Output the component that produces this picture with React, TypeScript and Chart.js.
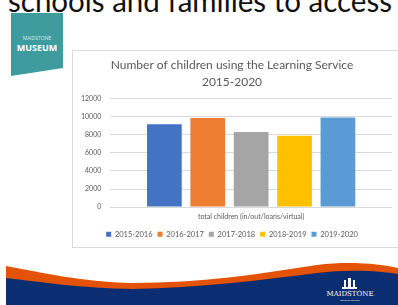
import React, { useEffect, useRef } from "react";
import { Chart, registerables } from "chart.js";

Chart.register(...registerables);

const chartTitle = ["Number of children using the Learning Service", "2015-2020"];
const categories = ["total children (in/out/loans/virtual)"];
const seriesNames = ["2015-2016", "2016-2017", "2017-2018", "2018-2019", "2019-2020"];
const seriesValues = [9150, 9850, 8300, 7900, 9900];
const seriesColors = ["#4472C4", "#ED7D31", "#A5A5A5", "#FFC000", "#5B9BD5"];
const yTicks = [0, 2000, 4000, 6000, 8000, 10000, 12000];

const FONT = "Lato, 'Open Sans', sans-serif";

function BarChart() {
  const ref = useRef<HTMLCanvasElement | null>(null);
  useEffect(() => {
    if (!ref.current) return;
    const chart = new Chart(ref.current, {
      type: "bar",
      data: {
        labels: categories,
        datasets: seriesNames.map((name, i) => ({
          label: name,
          data: [seriesValues[i]],
          backgroundColor: seriesColors[i],
          borderWidth: 0,
          barPercentage: 0.8,
          categoryPercentage: 0.77,
        })),
      },
      options: {
        animation: false,
        responsive: false,
        events: [],
        layout: { padding: { left: 0, right: 10, top: 0, bottom: 0 } },
        scales: {
          x: {
            grid: { display: false, drawTicks: false },
            border: { display: false },
            ticks: { font: { family: FONT, size: 7 }, color: "#595959", padding: 5 },
          },
          y: {
            min: yTicks[0],
            max: yTicks[yTicks.length - 1],
            afterBuildTicks: (axis: any) => {
              axis.ticks = yTicks.map((v) => ({ value: v }));
            },
            grid: { color: "#d9d9d9", drawTicks: false },
            border: { display: false },
            ticks: {
              font: { family: FONT, size: 7 },
              color: "#595959",
              padding: 9,
              callback: (v: any) => String(v),
            },
          },
        },
        plugins: {
          title: {
            display: true,
            text: chartTitle,
            font: { family: FONT, size: 12, weight: "normal" as any, lineHeight: 1.4 },
            color: "#595959",
            padding: { top: 7, bottom: 8 },
          },
          legend: {
            position: "bottom",
            labels: {
              boxWidth: 5,
              boxHeight: 5,
              padding: 5,
              font: { family: FONT, size: 7.5 },
              color: "#595959",
            },
          },
          tooltip: { enabled: false },
        },
      },
    });
    return () => chart.destroy();
  }, []);
  return <canvas ref={ref} width={330} height={198} style={{ display: "block" }} />;
}

export default function App() {
  return (
    <div
      style={{
        position: "fixed",
        left: 0,
        top: 0,
        width: 398,
        height: 305,
        overflow: "hidden",
        background: "#ffffff",
      }}
    >
      <svg width={398} height={305} style={{ position: "absolute", left: 0, top: 0 }}>
        <text
          x={8}
          y={12}
          textLength={384}
          lengthAdjust="spacingAndGlyphs"
          style={{ font: "30px Lato, 'Open Sans', sans-serif", fill: "#111" }}
        >
          schools and families to access
        </text>
        <polygon points="11,13 63,13 63,68 11,76" fill="#3E9C9F" />
        <text x={37} y={40} textAnchor="middle" style={{ font: "5px 'Open Sans', sans-serif", fill: "#cfeaea" }}>
          MAIDSTONE
        </text>
        <text x={37} y={51} textAnchor="middle" style={{ font: "bold 9px 'Open Sans', sans-serif", fill: "#ffffff" }}>
          MUSEUM
        </text>
        <path
          d="M6,266 C40,272 80,282 133,283 C200,283 260,274 317,265 C350,261 380,264 398,268 L398,305 L6,305 Z"
          fill="#E35205"
        />
        <path
          d="M6,278 C40,282 80,288 133,289 C200,288 260,280 317,273 C350,269 380,271 398,274 L398,305 L6,305 Z"
          fill="#0B2D71"
        />
        <g fill="#ffffff">
          <rect x={344} y={280} width={2} height={8} />
          <rect x={348} y={278} width={3} height={10} />
          <rect x={353} y={280} width={2} height={8} />
          <rect x={342} y={287} width={15} height={2} />
        </g>
        <text x={350} y={296} textAnchor="middle" style={{ font: "7px 'DejaVu Serif', serif", fill: "#ffffff" }}>
          MAIDSTONE
        </text>
        <text x={350} y={301} textAnchor="middle" style={{ font: "2.5px 'Open Sans', sans-serif", fill: "#ffffff" }}>
          Borough Council
        </text>
      </svg>
      <div
        style={{
          position: "absolute",
          left: 72,
          top: 50,
          width: 340,
          height: 198,
          border: "1px solid #d9d9d9",
          boxSizing: "border-box",
        }}
      />
      <div style={{ position: "absolute", left: 72, top: 50, width: 330, height: 198 }}>
        <BarChart />
      </div>
    </div>
  );
}
